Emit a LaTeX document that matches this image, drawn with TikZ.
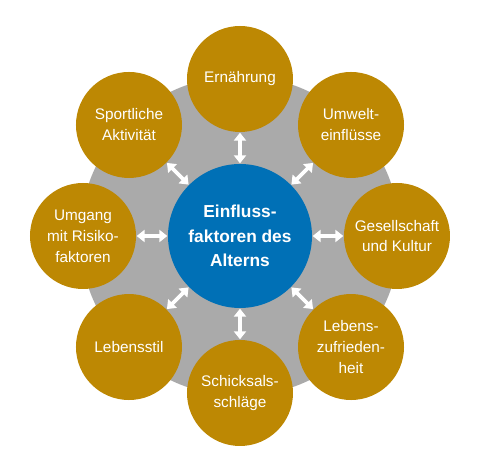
\documentclass[tikz,border=0pt]{standalone}
\usepackage{fontspec}
\setmainfont{Liberation Sans}
\usepackage{xcolor}
\usetikzlibrary{arrows.meta}

\definecolor{gold}{HTML}{BD8803}
\definecolor{ringgray}{HTML}{AAAAAA}
\definecolor{hubblue}{HTML}{0070B6}

\tikzset{
  factor/.style={circle, fill=gold, text=white, minimum size=79.5pt, inner sep=0pt, outer sep=0pt, align=center, font=\fontsize{11.5}{15.7}\selectfont},
  hub/.style={circle, fill=hubblue, text=white, minimum size=108pt, inner sep=0pt, outer sep=0pt, align=center, font=\bfseries\fontsize{13}{18.4}\selectfont},
  biarrow/.style={white, line width=2.7pt, {Triangle[width=9pt,length=6pt]}-{Triangle[width=9pt,length=6pt]}, shorten <=0.5pt, shorten >=0.5pt}
}

\begin{document}
\begin{tikzpicture}[x=0.75pt,y=0.75pt]

\useasboundingbox (-240,-235) rectangle (240,236);
\fill[ringgray] (0,0) circle (160);

\node[hub] (alt) at (0,0) {Einfluss-\\faktoren des\\Alterns};

\node[factor] (ern) at (90:157) {Ernährung};
\node[factor] (umw) at (45:157) {Umwelt-\\einflüsse};
\node[factor] (ges) at (0:157) {Gesellschaft\\und Kultur};
\node[factor] (zuf) at (-45:157) {Lebens-\\zufrieden-\\heit};
\node[factor] (sch) at (-90:157) {Schicksals-\\schläge};
\node[factor] (stil) at (-135:157) {Lebensstil};
\node[factor] (ris) at (180:157) {Umgang\\mit Risiko-\\faktoren};
\node[factor] (spo) at (135:157) {Sportliche\\Aktivität};

\draw[biarrow] (alt) -- (ern);
\draw[biarrow] (alt) -- (umw);
\draw[biarrow] (alt) -- (ges);
\draw[biarrow] (alt) -- (zuf);
\draw[biarrow] (alt) -- (sch);
\draw[biarrow] (alt) -- (stil);
\draw[biarrow] (alt) -- (ris);
\draw[biarrow] (alt) -- (spo);

\end{tikzpicture}
\end{document}
